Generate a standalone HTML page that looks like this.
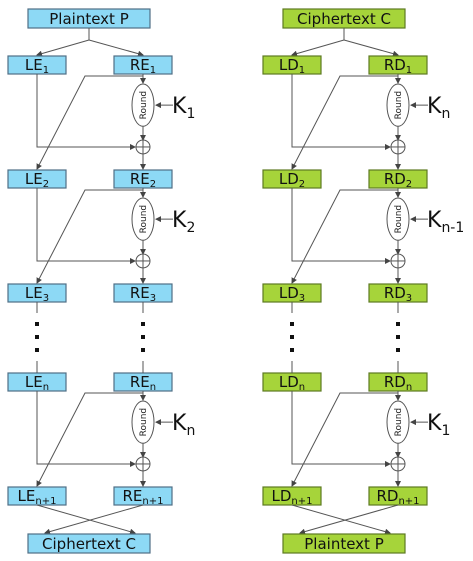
<!DOCTYPE html>
<html><head><meta charset="utf-8"><style>
html,body{margin:0;padding:0;background:#fff;width:473px;height:561px;overflow:hidden}
svg text{font-family:"DejaVu Sans","Liberation Sans",sans-serif}
</style></head><body>
<svg id="d" width="473" height="561" viewBox="0 0 473 561" xmlns="http://www.w3.org/2000/svg">
<defs><marker id="ar" markerWidth="6" markerHeight="6" refX="5" refY="3" orient="auto" markerUnits="userSpaceOnUse"><path d="M0,0 L6,3 L0,6 z" fill="#444"/></marker></defs>
</svg>
<script>
const NS="http://www.w3.org/2000/svg";
const svg=document.getElementById('d');
const rowTops=[56,170,284,373,487];
const leftSubs=["1","2","3","n","n+1"];
const encKeys=["1","2","n"];
const decKeys=["n","n-1","1"];
const roundRows=[0,1,3];
function el(t,a,p){const e=document.createElementNS(NS,t);for(const k in a)e.setAttribute(k,a[k]);(p||svg).appendChild(e);return e;}
function line(x1,y1,x2,y2,arrow){const l=el('line',{x1,y1,x2,y2,stroke:'#555','stroke-width':1});if(arrow)l.setAttribute('marker-end','url(#ar)');return l;}
function poly(pts,arrow){const p=el('polyline',{points:pts.map(q=>q.join(',')).join(' '),fill:'none',stroke:'#555','stroke-width':1});if(arrow)p.setAttribute('marker-end','url(#ar)');return p;}
function box(x,y,w,h,fill,stroke,main,sub,name,fs){
  const g=el('g',{});
  
  
  el('rect',{x,y,width:w,height:h,fill,stroke,'stroke-width':1.2},g);
  const t=el('text',{x:x+w/2,y:y+h-4,'text-anchor':'middle','font-size':fs||15,fill:'#111'},g);
  t.appendChild(document.createTextNode(main));
  if(sub){const s=el('tspan',{'font-size':10,dy:3},t);s.textContent=sub;}
}
function diagram(off,fill,stroke,Lp,Rp,top,bottom,keys,pfx){
  const lx=37+off, rx=143+off;
  box(28+off,9,122,19,fill,stroke,top,null,pfx+'-input-box',15);
  line(89+off,28,89+off,40);
  line(89+off,40,lx,55,true);line(89+off,40,rx,55,true);
  rowTops.forEach((y,i)=>{
    box(8+off,y,58,18,fill,stroke,Lp,leftSubs[i],pfx+'-left-'+(i+1),15);
    box(114+off,y,58,18,fill,stroke,Rp,leftSubs[i],pfx+'-right-'+(i+1),15);
  });
  roundRows.forEach((r,k)=>{
    const y0=rowTops[r]+18, y1=rowTops[r+1];
    const ey=y0+10, eh=(y1-y0)*0.44, ecy=ey+eh/2;
    const xy=y0+(y1-y0)*0.76;
    line(rx,y0,rx,ey-1,true);
    const ell=el('ellipse',{cx:rx,cy:ecy,rx:11,ry:eh/2,fill:'#fff',stroke:'#555'});
    
    
    const rt=el('text',{x:rx,y:ecy+3,'text-anchor':'middle','font-size':9,fill:'#222',transform:`rotate(-90 ${rx} ${ecy})`});rt.textContent='Round';
    line(rx,ecy+eh/2,rx,xy-7,true);
    const c=el('circle',{cx:rx,cy:xy,r:7,fill:'#fff',stroke:'#555'});
    
    
    line(rx-7,xy,rx+7,xy);line(rx,xy-7,rx,xy+7);
    line(rx,xy+7,rx,y1-1,true);
    poly([[lx,y0],[lx,xy],[rx-8,xy]],true);
    poly([[rx,y0+2],[85+off,y0+2],[lx,y1-1]],true);
    line(rx+30,ecy,rx+13,ecy,true);
    const kt=el('text',{x:rx+29,y:ecy+8,'font-size':22,fill:'#111'});
    
    
    kt.appendChild(document.createTextNode('K'));
    const ks=el('tspan',{'font-size':14,dy:5},kt);ks.textContent=keys[k];
  });
  [lx,rx].forEach(x=>{
    line(x,rowTops[2]+18,x,313);
    [324,337,350].forEach(y=>el('rect',{x:x-2,y:y-2,width:4,height:4,fill:'#111'}));
    line(x,361,x,rowTops[3]);
  });
  const yb=rowTops[4]+18;
  line(lx,yb,rx-8,533,true);line(rx,yb,lx+8,533,true);
  box(28+off,534,122,19,fill,stroke,bottom,null,pfx+'-output-box',15);
}
diagram(0,'#8dd9f5','#4f6f85','LE','RE','Plaintext P','Ciphertext C',encKeys,'enc');
diagram(255,'#a6d43a','#5d7a22','LD','RD','Ciphertext C','Plaintext P',decKeys,'dec');
</script>
</body></html>
